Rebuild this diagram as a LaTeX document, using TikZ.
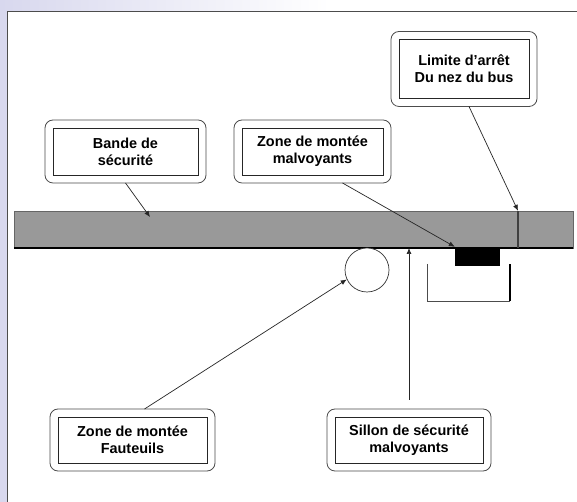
\documentclass[tikz,border=0pt]{standalone}
\usepackage{fontspec}
\setmainfont{Liberation Sans}
\usetikzlibrary{arrows.meta}
\definecolor{lavande}{RGB}{216,216,238}
\definecolor{bandgris}{RGB}{153,153,153}

\begin{document}
\begin{tikzpicture}[x=1bp,y=1bp,>={Latex[length=6bp,width=5bp]},
  every node/.style={font=\fontsize{14.5}{17}\selectfont\bfseries},
  label box/.style={draw=black!85,line width=.8bp,align=center,inner sep=0pt,outer sep=8bp},
  outer box/.style={draw=black!70,line width=.8bp,rounded corners=8bp},
  pointer/.style={->,draw=black!85,line width=.7bp}]
  \useasboundingbox (0,0) rectangle (577,502);
  % fond et cadre
  \fill[lavande] (0,0) rectangle (577,502);
  \shade[left color=lavande,right color=white] (0,491) rectangle (330,502);
  \fill[white] (330,491) rectangle (577,502);
  \fill[white] (7,0) rectangle (577,491);
  \draw[black!70,line width=.8bp] (7,0) -- (7,491) -- (577,491);
  % quai
  \node[draw=black!60,fill=bandgris,line width=.6bp,minimum width=559bp,minimum height=37bp,
    inner sep=0pt,outer sep=0pt] (bande) at (293.5,272.5) {};
  \draw[line width=2.5bp] (bande.south west) -- (bande.south east);
  \node[fill=black!75,minimum width=2.5bp,minimum height=37bp,inner sep=0pt] (butee) at (518,272.5) {};
  \node[fill=black,minimum width=45bp,minimum height=19bp,inner sep=0pt] (noir) at (477.5,245.5) {};
  \node[circle,draw=black!80,fill=white,line width=.7bp,minimum size=44bp,inner sep=0pt] (cercle) at (367,232) {};
  \draw[black!70,line width=.7bp] (427,238) -- (427,201) -- (510,201);
  \draw[line width=1.6bp] (510,201) -- (510,238);
  \coordinate (pointBande) at (150,285);
  % etiquettes
  \node[label box,minimum width=145bp,minimum height=47bp] (secu) at (125.5,350.5) {Bande de\\sécurité};
  \node[label box,minimum width=141bp,minimum height=47bp] (montee) at (312.5,350.5) {Zone de montée\\malvoyants};
  \node[label box,minimum width=130bp,minimum height=59bp] (limite) at (464,433) {Limite d'arrêt\\Du nez du bus};
  \node[label box,minimum width=149bp,minimum height=46bp] (fauteuils) at (132.5,62) {Zone de montée\\Fauteuils};
  \node[label box,minimum width=148bp,minimum height=46bp] (sillon) at (409,62) {Sillon de sécurité\\malvoyants};
  \foreach \n in {secu,montee,limite,fauteuils,sillon}
    \draw[outer box] (\n.south west) rectangle (\n.north east);
  % fleches
  \draw[pointer] (secu.south) -- (pointBande);
  \draw[pointer] ([xshift=30bp]montee.south) -- (noir.north west);
  \draw[pointer] ([xshift=5bp]limite.south) -- (butee.north);
  \draw[pointer] ([xshift=12bp]fauteuils.north) -- (cercle.205);
  \draw[pointer,shorten <=9bp] (sillon.north) -- (sillon.north |- bande.south);
\end{tikzpicture}
\end{document}
